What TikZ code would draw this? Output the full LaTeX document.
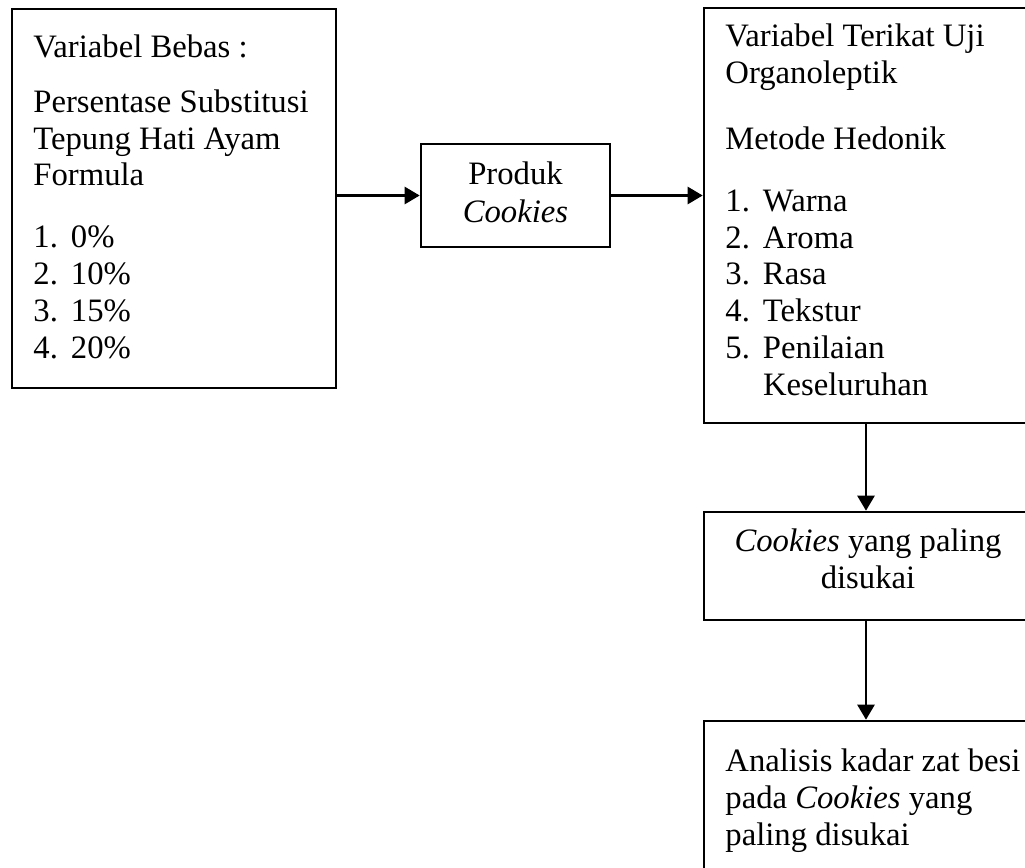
\documentclass[tikz,border=0pt]{standalone}
\usepackage{fontspec}
\setmainfont{Liberation Serif}
\usetikzlibrary{arrows.meta}

\newcommand{\butir}[2]{\makebox[18.8pt][l]{#1}#2}

\begin{document}
\begin{tikzpicture}[x=0.5pt, y=-0.5pt,
  box/.style={draw, line width=1.3pt, inner sep=0pt},
  txt/.style={inner sep=0pt, align=left, font=\fontsize{16.35}{18.35}\selectfont},
  flow/.style={-{Triangle[length=7.5pt, width=8.5pt]}, line width=1.3pt}]

  \clip (0,0) rectangle (1025,868);

  % Boxes
  \node[box, minimum width=162pt, minimum height=189.5pt] (bebas) at (174,198.5) {};
  \node[box, minimum width=94.5pt, minimum height=51.5pt] (produk) at (515.5,195.5) {};
  \node[box, minimum width=164pt, minimum height=207.5pt] (organo) at (868,215.5) {};
  \node[box, minimum width=164pt, minimum height=54pt] (suka) at (868,566) {};
  \node[box, minimum width=164pt, minimum height=89.5pt] (analisis) at (868,810.5) {};

  % Texts (base anchor sits on the last line)
  \node[txt, anchor=base west] (bebas-teks) at (33,358)
    {Variabel Bebas :\\[9.15pt]
     Persentase Substitusi\\
     Tepung Hati Ayam\\
     Formula\\[12.65pt]
     \butir{1.}{0\%}\\
     \butir{2.}{10\%}\\
     \butir{3.}{15\%}\\
     \butir{4.}{20\%}};
  \node[txt, anchor=base, align=center] (produk-teks) at (515.5,222)
    {Produk\\[0.6pt] \textit{Cookies}};
  \node[txt, anchor=base west] (organo-teks) at (725,395)
    {Variabel Terikat Uji\\
     Organoleptik\\[14.65pt]
     Metode Hedonik\\[12.65pt]
     \butir{1.}{Warna}\\
     \butir{2.}{Aroma}\\
     \butir{3.}{Rasa}\\
     \butir{4.}{Tekstur}\\
     \butir{5.}{Penilaian}\\
     \hspace*{18.8pt}Keseluruhan};
  \node[txt, anchor=base, align=center] (suka-teks) at (868,588)
    {\textit{Cookies} yang paling\\ disukai};
  \node[txt, anchor=base west] (analisis-teks) at (725,845)
    {Analisis kadar zat besi\\
     pada \textit{Cookies} yang\\
     paling disukai};

  % Arrows
  \coordinate (spine) at (866,0);
  \draw[flow] (bebas.east |- produk.west) -- (produk.west);
  \draw[flow] (produk.east) -- (produk.east -| organo.west);
  \draw[flow] (spine |- organo.south) -- (spine |- suka.north);
  \draw[flow] (spine |- suka.south) -- (spine |- analisis.north);

\end{tikzpicture}
\end{document}
